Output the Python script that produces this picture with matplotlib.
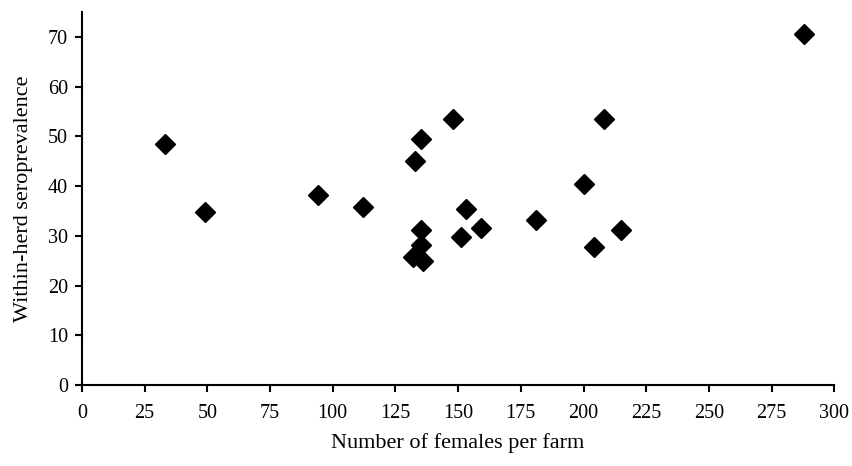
import matplotlib.pyplot as plt

plt.rcParams["font.family"] = ["Liberation Serif", "DejaVu Serif"]

# number of females per farm vs within-herd seroprevalence (%)
females = [33, 49, 94, 112, 135, 133, 148, 135, 135, 132, 136,
           153, 151, 159, 181, 200, 208, 204, 215, 288]
seroprev = [48.5, 34.7, 38.3, 35.7, 49.5, 45.1, 53.4, 31.2, 28.2, 25.8, 24.9,
            35.3, 29.8, 31.5, 33.2, 40.5, 53.4, 27.8, 31.2, 70.5]

xticks = list(range(0, 301, 25))
yticks = list(range(0, 71, 10))

fig = plt.figure(figsize=(8.52, 4.66), dpi=100)
ax = fig.add_axes([0.0962, 0.174, 0.883, 0.8])

ax.plot(females, seroprev, linestyle="none", marker="D", markersize=10,
        color="black")

ax.set_xlim(0, 300)
ax.set_ylim(0, 75)
ax.set_xticks(xticks)
ax.set_yticks(yticks)
ax.spines["top"].set_visible(False)
ax.spines["right"].set_visible(False)
for s in ("left", "bottom"):
    ax.spines[s].set_linewidth(1.5)
ax.tick_params(direction="out", length=5, width=1.5, labelsize=14.5)
ax.tick_params(axis="x", pad=9)
ax.tick_params(axis="y", pad=5)
ax.set_xlabel("Number of females per farm", fontsize=16, labelpad=7)
ax.set_ylabel("Within-herd seroprevalence", fontsize=16, labelpad=11)

fig.savefig("out.png", dpi=100)
